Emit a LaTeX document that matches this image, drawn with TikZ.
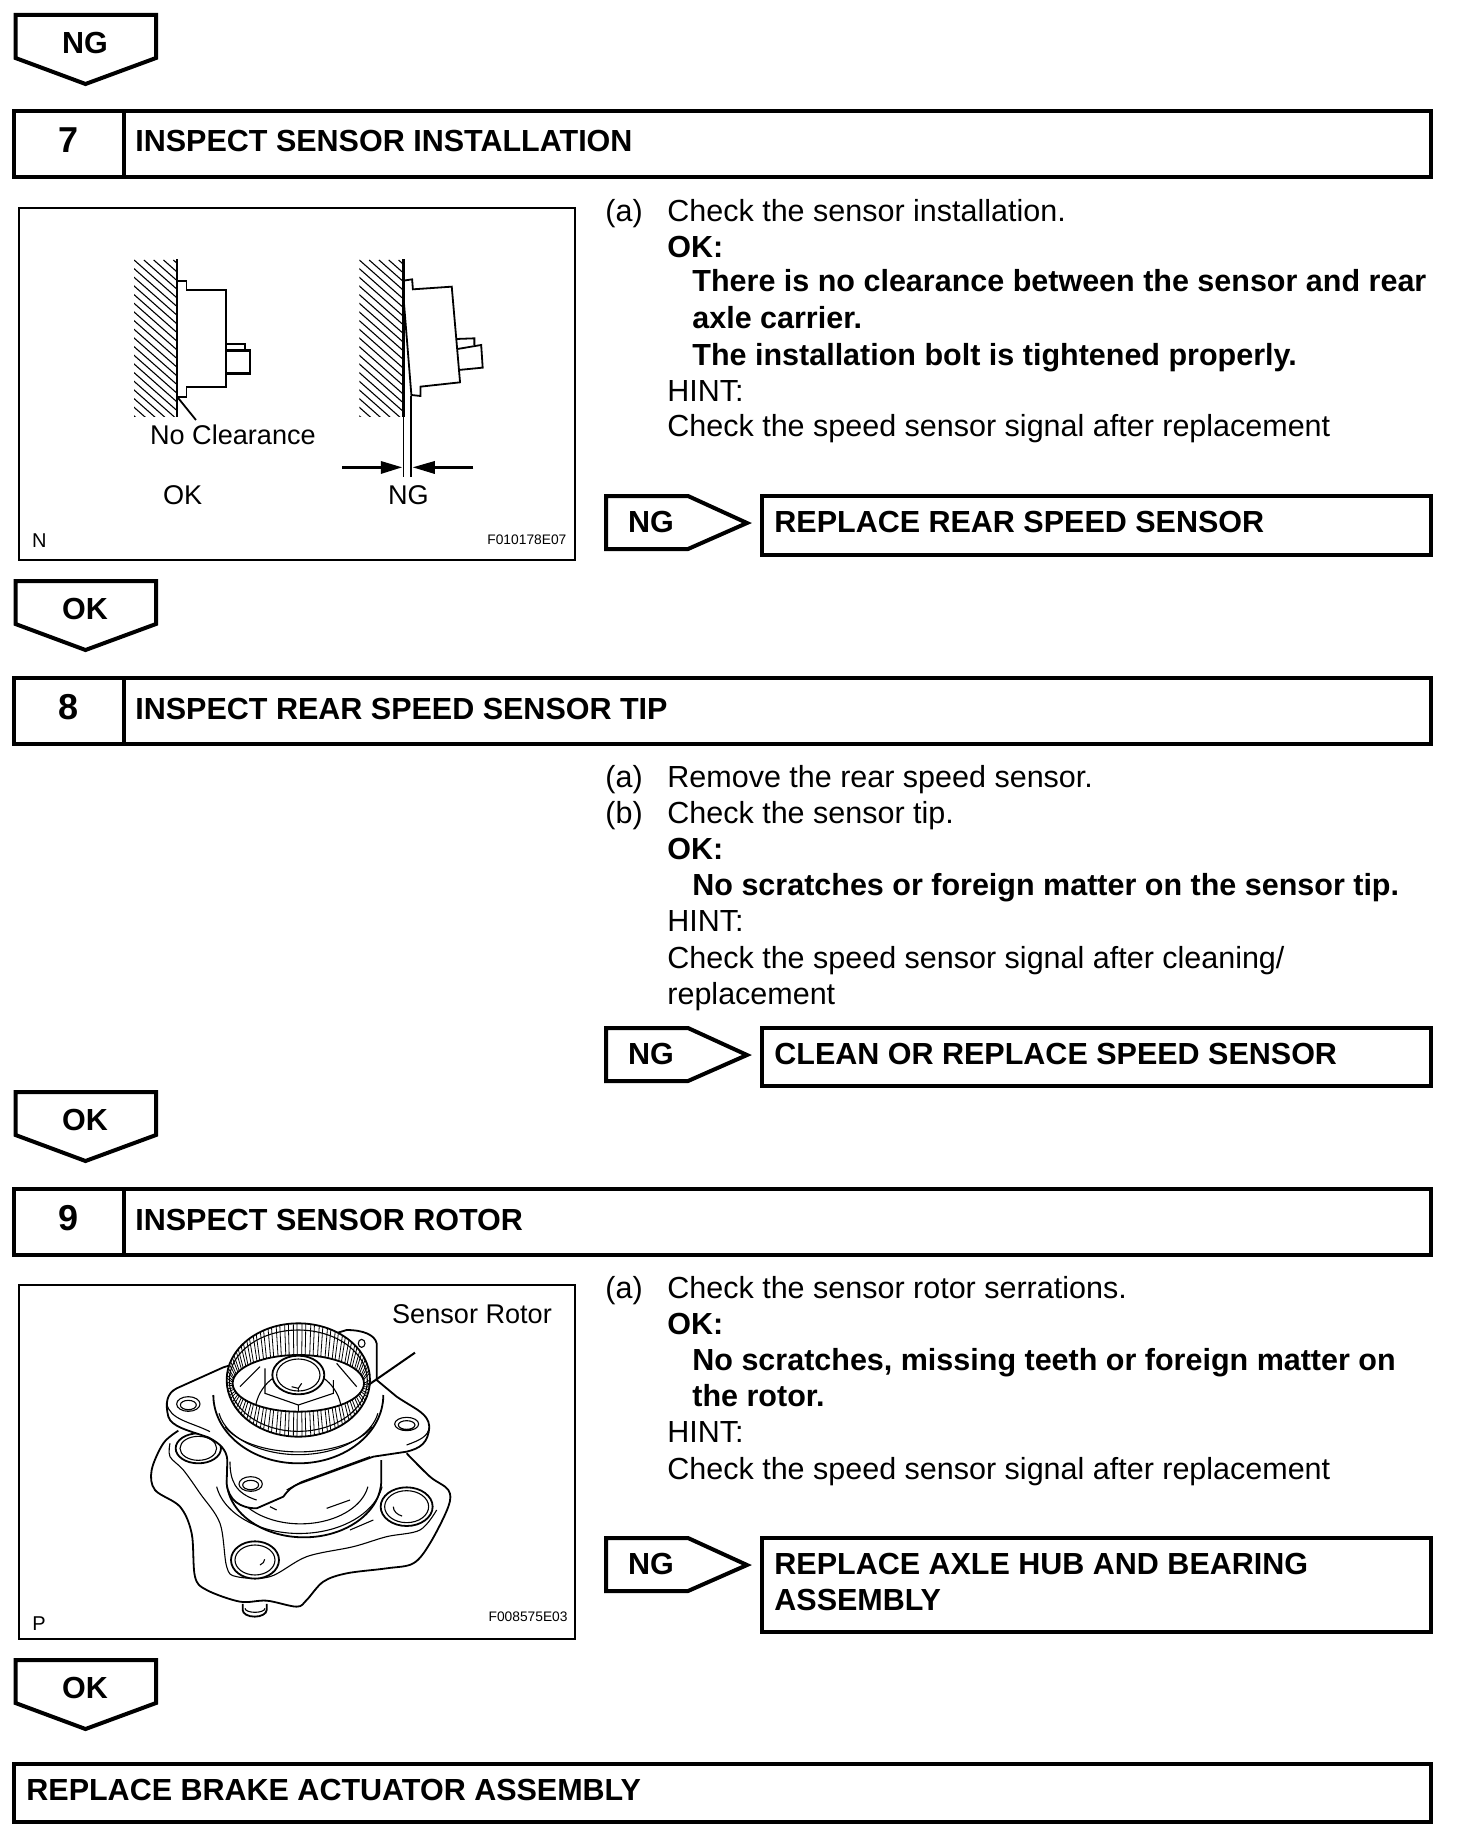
\documentclass[tikz,border=0pt]{standalone}
\usepackage{fontspec}
\setmainfont{Liberation Sans}
\begin{document}
\begin{tikzpicture}[x=0.5pt,y=-0.5pt,line join=miter]
\tikzset{
 heavy/.style={draw=black,line width=2pt,fill=white},
 txt/.style={anchor=base west,inner sep=0pt,font=\fontsize{15.25}{18}\selectfont},
 btxt/.style={txt,font=\fontsize{15.25}{18}\selectfont\bfseries},
 ntxt/.style={anchor=center,inner sep=0pt,font=\fontsize{18}{20}\selectfont\bfseries},
 lab/.style={anchor=center,inner sep=0pt,font=\fontsize{13.55}{16}\selectfont},
 tiny/.style={anchor=east,inner sep=0pt,font=\fontsize{6.9}{8}\selectfont},
 small/.style={anchor=center,inner sep=0pt,font=\fontsize{10}{11}\selectfont},
 thin line/.style={draw=black,line width=0.55pt},
 thick line/.style={draw=black,line width=0.9pt},
 fig/.style={draw=black,line width=1pt,fill=white}
}
\useasboundingbox[fill=white] (0,0) rectangle (1456,1846);

% down pentagons
\newcommand{\downtag}[3]{%
 \draw[heavy] (15.5,#1) -- (156,#1) -- (156,#1+43) -- (85.5,#1+69) -- (15.5,#1+43) -- cycle;
 \node[btxt,anchor=center] (#3) at (85,#1+28) {#2};}
\downtag{15}{NG}{tagA}
\downtag{581}{OK}{tagB}
\downtag{1092}{OK}{tagC}
\downtag{1660}{OK}{tagD}

% header bars
\newcommand{\headbar}[4]{%
 \draw[heavy] (14,#1) rectangle (1431,#1+66);
 \draw[heavy] (124,#1) -- (124,#1+66);
 \node[ntxt] (num#2) at (69,#1+29) {#2};
 \node[btxt] (head#2) at (135,#1+41) {#3};}
\headbar{111}{7}{INSPECT SENSOR INSTALLATION}{}
\headbar{678}{8}{INSPECT REAR SPEED SENSOR TIP}{}
\headbar{1189}{9}{INSPECT SENSOR ROTOR}{}

\draw[heavy] (14,1764) rectangle (1431,1822);
\node[btxt] (final) at (26,1800) {REPLACE BRAKE ACTUATOR ASSEMBLY};

% side NG tags with result boxes
\newcommand{\sidetag}[5]{%
 \draw[heavy] (606,#1) -- (688,#1) -- (747,#1+27) -- (688,#1+53) -- (606,#1+53) -- cycle;
 \node[btxt,anchor=center] (#4) at (651,#1+26) {NG};
 \draw[heavy] (762,#1) rectangle (1431,#2);
 \node[btxt] (#5) at (774,#1+36) {#3};}
\sidetag{496}{555}{REPLACE REAR SPEED SENSOR}{sideA}{resA}
\sidetag{1028}{1086}{CLEAN OR REPLACE SPEED SENSOR}{sideB}{resB}
\sidetag{1538}{1632}{REPLACE AXLE HUB AND BEARING}{sideC}{resC}
\node[btxt] (resCb) at (774,1610) {ASSEMBLY};

% body text 7
\node[txt] (t7a) at (605,221) {(a)};
\node[txt] (t7b) at (667,221) {Check the sensor installation.};
\node[btxt] (t7c) at (667,257) {OK:};
\node[btxt] (t7d) at (692,292) {There is no clearance between the sensor and rear};
\node[btxt] (t7e) at (692,328) {axle carrier.};
\node[btxt] (t7f) at (692,365) {The installation bolt is tightened properly.};
\node[txt] (t7g) at (667,401) {HINT:};
\node[txt] (t7h) at (667,436) {Check the speed sensor signal after replacement};

% body text 8
\node[txt] (t8a) at (605,787) {(a)};
\node[txt] (t8b) at (667,787) {Remove the rear speed sensor.};
\node[txt] (t8c) at (605,823) {(b)};
\node[txt] (t8d) at (667,823) {Check the sensor tip.};
\node[btxt] (t8e) at (667,859) {OK:};
\node[btxt] (t8f) at (692,895) {No scratches or foreign matter on the sensor tip.};
\node[txt] (t8g) at (667,931) {HINT:};
\node[txt] (t8h) at (667,968) {Check the speed sensor signal after cleaning/};
\node[txt] (t8i) at (667,1004) {replacement};

% body text 9
\node[txt] (t9a) at (605,1298) {(a)};
\node[txt] (t9b) at (667,1298) {Check the sensor rotor serrations.};
\node[btxt] (t9c) at (667,1334) {OK:};
\node[btxt] (t9d) at (692,1370) {No scratches, missing teeth or foreign matter on};
\node[btxt] (t9e) at (692,1406) {the rotor.};
\node[txt] (t9f) at (667,1442) {HINT:};
\node[txt] (t9g) at (667,1479) {Check the speed sensor signal after replacement};

% figure 7
\draw[fig] (19,208) rectangle (575,560);
\begin{scope}[shift={(-1,200)},x=0.5pt/2.65,y=-0.5pt/3]
 \begin{scope}
  \clip (358,180) rectangle (472,650);
  \foreach \i in {-26,...,18} \draw[thin line] (358+\i*26,180) -- ++(500,500);
 \end{scope}
 \begin{scope}
  \clip (955,180) rectangle (1072,650);
  \foreach \i in {-26,...,18} \draw[thin line] (955+\i*26,180) -- ++(500,500);
 \end{scope}
 \draw[draw=black,line width=1.1pt] (472,178) -- (472,650);
 \draw[draw=black,line width=1.1pt] (1072,178) -- (1072,650);
 % OK sensor
 \draw[thick line] (472,242) -- (497,242) -- (497,270) -- (602,270) -- (602,560) -- (497,560) -- (497,590) -- (472,590);
 \draw[thick line] (602,432) -- (652,432) -- (652,452);
 \draw[draw=black,line width=1.2pt] (602,452) -- (665,452) -- (665,520) -- (602,520);
 \draw[thick line] (472,590) -- (522,660);
 % NG sensor
 \draw[thick line] (1072,242) -- (1095,238) -- (1097,268) -- (1200,260) -- (1222,547) -- (1117,560) -- (1117,588) -- (1093,585) -- (1072,290);
 \draw[thick line] (1212,417) -- (1260,415) -- (1260,435);
 \draw[thick line] (1215,447) -- (1278,435) -- (1282,503) -- (1218,510);
 \draw[thin line] (1072,650) -- (1072,832);
 \draw[thin line] (1092,588) -- (1092,832);
 \coordinate (la) at (910,802); \coordinate (lb) at (1068,802);
 \coordinate (ra) at (1257,802); \coordinate (rb) at (1097,802);
 \draw[draw=black,line width=1.2pt] (la) -- (1020,802);
 \draw[draw=black,line width=1.2pt] (ra) -- (1150,802);
 \fill (lb) -- (1012,783) -- (1012,822) -- cycle;
 \fill (rb) -- (1155,783) -- (1155,822) -- cycle;
 \node[lab] (noclr) at (620,705) {No Clearance};
 \node[lab] (okl) at (487,885) {OK};
 \node[lab] (ngl) at (1085,885) {NG};
 \node[small] (nl) at (107,1022) {N};
 \node[tiny] (figid) at (1505,1020) {F010178E07};
\end{scope}

% figure 9
\draw[fig] (19,1285) rectangle (575,1639);
\node[lab] (rotor) at (472,1314) {Sensor Rotor};
\node[small] (pl) at (39,1624) {P};
\node[tiny] (figidb) at (568,1617) {F008575E03};
\begin{scope}[shift={(120,1280)},x=0.5pt/3,y=-0.5pt/3]
 % lower flange
 \draw[thick line,fill=white] plot[smooth,tension=0.55] coordinates {(175,452) (130,490) (95,570) (105,630) (180,680) (215,760) (225,890) (260,930) (360,965) (440,962) (530,980) (560,960) (610,905) (680,880) (800,865) (880,850) (930,790) (985,680) (985,630) (930,590) (860,520)};
 \draw[thin line] plot[smooth,tension=0.55] coordinates {(150,490) (150,530) (190,570) (240,640) (300,730) (320,860) (350,890) (450,890) (560,830) (700,800) (800,770) (900,750) (950,690)};
 % studs
 \draw[thick line,fill=white] (860,680) ellipse (78 and 58);
 \draw[thin line] (860,680) ellipse (66 and 48);
 \draw[thin line] (820,680) arc (180:110:40 and 30);
 \draw[thick line,fill=white] (405,840) ellipse (72 and 56);
 \draw[thin line] (405,840) ellipse (60 and 45);
 \draw[thin line] (420,855) arc (60:0:28 and 20);
 \draw[thick line,fill=white] (235,505) ellipse (68 and 45);
 \draw[thin line] (235,505) ellipse (55 and 36);
 % bottom stud
 \draw[thick line,fill=white] (368,972) -- (368,990) arc (180:0:36 and 20) -- (440,972);
 \draw[thin line] (375,985) arc (180:0:30 and 12);
 % hub rings
 \draw[thick line,fill=white] (320,600) arc (180:0:232 and 172) -- (784,540);
 \draw[thin line] (340,620) arc (170:10:205 and 135);
 \draw[thin line] (290,620) arc (170:10:252 and 170);
 \draw[thin line] (450,680) -- (470,690);
 \draw[thin line] (620,685) -- (690,660) (690,750) -- (760,720);
 % upper flange
 \draw[thick line,fill=white] (310,262) -- (170,325) .. controls (140,340) and (135,370) .. (145,410) .. controls (155,440) and (200,450) .. (265,472) .. controls (300,490) and (320,510) .. (322,540) -- (320,610) .. controls (325,660) and (360,685) .. (410,685) -- (490,650) .. controls (505,630) and (515,620) .. (540,610) -- (760,530) -- (860,515) .. controls (900,505) and (925,490) .. (928,440) .. controls (925,400) and (890,390) .. (830,350) -- (770,300) -- (770,190) .. controls (765,165) and (730,150) .. (680,150) -- cycle;
 \draw[thin line] (140,370) .. controls (150,420) and (210,425) .. (270,455) (330,545) .. controls (330,600) and (345,640) .. (410,660) (500,630) -- (545,605) -- (750,530) (860,495) .. controls (900,480) and (925,470) .. (928,440);
 \draw[thin line] (205,372) ellipse (35 and 22) (205,375) ellipse (24 and 14) (860,432) ellipse (36 and 20) (860,435) ellipse (25 and 13) (392,612) ellipse (35 and 22) (392,615) ellipse (24 and 14) (725,190) ellipse (10 and 12);
 % collar
 \draw[thick line] (280,345) arc (180:0:255 and 205);
 \draw[thin line] (297,400) arc (170:10:242 and 150);
 \draw[thin line] (315,440) arc (160:20:235 and 115);
 % ring base
 \draw[thick line,fill=white] (535,300) ellipse (215 and 170);
 % inner
 \draw[thick line] (535,310) ellipse (197 and 85);
 % center parts
 \begin{scope}
  \clip (535,310) ellipse (197 and 85);
  \draw[thin line] (405,400) arc (180:360:130 and 130);
  \draw[thin line] (360,320) -- (420,260) (710,320) -- (650,250);
 \end{scope}
 \draw[thin line] (435,265) -- (435,340) -- (535,375) -- (640,340) -- (640,300) (535,375) -- (535,395);
 \draw[thick line,fill=white] (535,285) ellipse (78 and 58);
 \draw[thin line] (535,285) ellipse (65 and 48);
 \draw[thin line] (515,320) -- (535,325) -- (545,310) (535,325) -- (535,335);
 % teeth
 \foreach \a in {0,7,...,356} {
  \draw[draw=black,line width=0.4pt] ({535+215*cos(\a)},{300+170*sin(\a)}) -- ({535+197*cos(\a)},{310+85*sin(\a)});
  \draw[draw=black,line width=0.4pt] ({535+215*cos(\a+3)},{300+170*sin(\a+3)}) -- ({535+197*cos(\a+3)},{310+85*sin(\a+3)});
 }
 \draw[thin line] (535,302) ellipse (207 and 152);
 \coordinate (rotA) at (885,218);
 \coordinate (rotB) at (745,315);
 \draw[draw=black,line width=1pt] (rotA) -- (rotB);
\end{scope}
\end{tikzpicture}
\end{document}
